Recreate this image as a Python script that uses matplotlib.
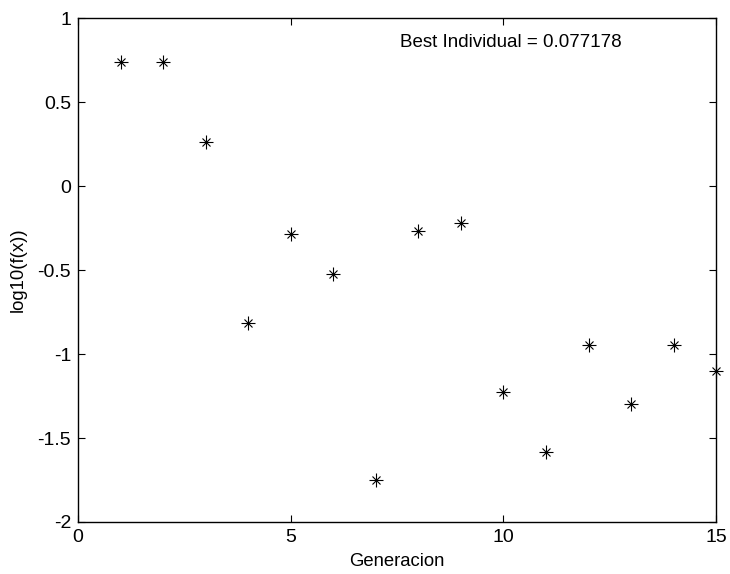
import matplotlib.pyplot as plt

plt.rcParams['font.family'] = ['Liberation Sans', 'DejaVu Sans']

# Generation number and best fitness (log10) per generation
generacion = [1, 2, 3, 4, 5, 6, 7, 8, 9, 10, 11, 12, 13, 14, 15]
log_fx = [0.741, 0.741, 0.261, -0.818, -0.286, -0.525, -1.752, -0.270,
          -0.223, -1.225, -1.585, -0.944, -1.296, -0.944, -1.103]
best_value = 0.077178

fig = plt.figure(figsize=(7.3, 5.74), dpi=100)
ax = fig.add_axes([0.107, 0.0906, 0.874, 0.878])

# MATLAB style asterisk: plus and x overlaid
ax.plot(generacion, log_fx, linestyle='none', marker='+', markersize=10,
        markeredgewidth=0.8, color='black', clip_on=False)
ax.plot(generacion, log_fx, linestyle='none', marker='x', markersize=6,
        markeredgewidth=0.8, color='black', clip_on=False)

ax.text(7.57, 0.855, 'Best Individual = %g' % best_value, fontsize=13.5,
        ha='left', va='center')

ax.set_xlim(0, 15)
ax.set_ylim(-2, 1)
ax.set_xticks([0, 5, 10, 15])
ax.set_yticks([-2, -1.5, -1, -0.5, 0, 0.5, 1])
ax.set_yticklabels(['-2', '-1.5', '-1', '-0.5', '0', '0.5', '1'])
ax.tick_params(direction='in', length=5, width=0.8, top=True, right=True,
               labelsize=14, pad=5)
for s in ax.spines.values():
    s.set_linewidth(1.0)

ax.set_xlabel('Generacion', fontsize=13.3, labelpad=5)
ax.set_ylabel('log10(f(x))', fontsize=13.3, labelpad=8)

fig.savefig('out.png', dpi=100)
